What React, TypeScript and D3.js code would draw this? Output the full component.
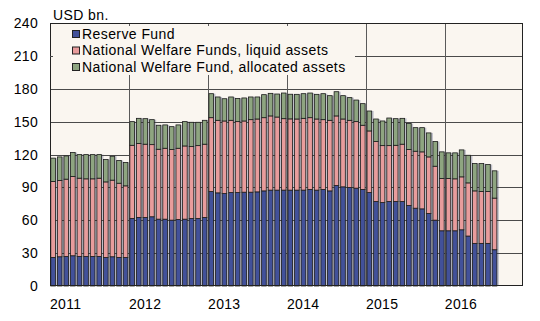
import React from "react";
import * as d3 from "d3";

// Monthly data, Jan 2011 – Aug 2016, USD bn.
const reserveFund = [
  26.1, 26.7, 27, 27.6, 27, 27, 27, 27, 26.1, 26.7, 26.1, 26.1,
  61.7, 62.6, 62.6, 63.2, 61, 61, 60.1, 60.7, 61, 61.6, 61.6, 62.6,
  86.2, 85, 84.4, 85.3, 85.3, 85.6, 85.6, 85.9, 86.8, 87.5, 87.5, 87.5,
  87.5, 87.5, 87.5, 88.1, 87.5, 88.1, 86.8, 91.7, 90.5, 89.9, 89.3, 88.1,
  85.3, 77.1, 76.2, 77.1, 77.1, 77.1, 73.5, 71, 70.4, 66.2, 60.1, 50.4,
  50.4, 50.4, 51.3, 45.6, 38.9, 38.9, 38.9, 33.1,
];
const nwfLiquid = [
  69.3, 69.6, 70.5, 72.3, 71.4, 70.8, 70.8, 71.4, 68.9, 69.9, 67.7, 65.3,
  66.7, 67.4, 66.8, 65.8, 63.8, 64.7, 64.4, 65, 66.8, 65.6, 66.5, 66.8,
  67.4, 66.2, 66.2, 65.9, 64.7, 65, 66.2, 66.5, 66.8, 67.7, 66.7, 65.2,
  65, 64.9, 65.5, 65.5, 64.9, 63.7, 64.4, 63.5, 61.9, 61.3, 60.7, 58.6,
  56.2, 54.7, 51.9, 51, 51.3, 52.3, 51, 52, 52, 51.6, 49.2, 47.7,
  47.7, 47.4, 48.3, 48.5, 47.9, 47.3, 47.3, 47.1,
];
const nwfAllocated = [
  21.3, 21.5, 21.2, 21.9, 21.5, 22.1, 22.1, 21.5, 20.4, 21.8, 20.7, 21.3,
  21.6, 23, 23.3, 22.8, 21.9, 21.3, 20.9, 21.3, 22.2, 22.2, 21.3, 21.8,
  21.9, 21.3, 20.3, 21.3, 21.2, 21, 20.7, 20.1, 21, 20.6, 21, 23.4,
  22.5, 22.5, 22.5, 22.5, 22.5, 23.7, 22.5, 22.1, 21.3, 20.7, 19.7, 19.7,
  18.2, 20.6, 22.5, 25.2, 24.3, 23.6, 23.7, 21.5, 22.1, 21.9, 22.5, 24.3,
  23.4, 23.7, 24.6, 25.2, 24.9, 25.5, 24.6, 24.9,
];
const seriesNames = [
  "Reserve Fund",
  "National Welfare Funds, liquid assets",
  "National Welfare Fund, allocated assets",
];
const yTicks = [0, 30, 60, 90, 120, 150, 180, 210, 240];
const yearLabels = ["2011", "2012", "2013", "2014", "2015", "2016"];

const colors = ["#42519a", "#e89c9c", "#8ea580"];

export default function App() {
  const W = 540, H = 321;
  const L = 50, R = 523, T = 23, B = 286;
  const font = "'Liberation Sans', Arial, sans-serif";

  const startDate = new Date(2011, 0, 1);
  const endDate = new Date(2017, 0, 1);
  const allMonths = d3.timeMonths(startDate, endDate);
  const xTime = d3.scaleTime().domain([startDate, endDate]).range([L, R + 1]);
  const xBand = d3
    .scaleBand<number>()
    .domain(d3.range(allMonths.length))
    .range([L, R + 1])
    .paddingInner(0.3)
    .paddingOuter(0.12);
  const y = d3.scaleLinear().domain([0, 240]).range([B, T]);

  const table = reserveFund.map((v, i) => ({
    i,
    a: v,
    b: nwfLiquid[i],
    c: nwfAllocated[i],
  }));
  const stacked = d3.stack<any>().keys(["a", "b", "c"])(table);
  const totals = table.map((d) => d.a + d.b + d.c);

  const legX1 = 355, legY1 = 75;
  const step = xBand.step();

  const yearStarts = yearLabels.map((yr) => new Date(+yr, 0, 1));

  return (
    <svg width={W} height={H} style={{ display: "block", position: "absolute", left: 0, top: 0 }}>
      <rect x={0} y={0} width={W} height={H} fill="#ffffff" />
      <rect x={L} y={T} width={R - L} height={B - T} fill="#faf6f0" />

      {/* grey backing between bars */}
      {table.map((d, i) => (
        <rect
          key={"g" + i}
          x={xBand(i)!}
          y={y(totals[i])}
          width={step}
          height={y(0) - y(totals[i])}
          fill="#bfc0ca"
        />
      ))}

      {/* horizontal gridlines */}
      {yTicks
        .filter((t) => t > 0 && t < 240)
        .map((t) => (
          <line
            key={"h" + t}
            x1={y(t) < legY1 ? legX1 : L}
            x2={R}
            y1={Math.round(y(t)) + 0.5}
            y2={Math.round(y(t)) + 0.5}
            stroke="#4a4a4a"
            strokeWidth={1}
          />
        ))}
      {/* vertical gridlines at year boundaries */}
      {yearStarts.slice(1).map((d, k) => {
        const xx = Math.round(xTime(d)) + 0.5;
        const hidden = xx < legX1;
        return (
          <g key={"v" + k}>
            <line x1={xx} x2={xx} y1={hidden ? legY1 : T} y2={B} stroke="#5a5a5a" strokeWidth={1} />
            <line x1={xx} x2={xx} y1={T} y2={T + 3} stroke="#5a5a5a" strokeWidth={1} />
          </g>
        );
      })}

      {/* bars */}
      {stacked.map((s, si) =>
        s.map((d, i) => (
          <rect
            key={si + "-" + i}
            x={xBand(i)!}
            y={y(d[1])}
            width={xBand.bandwidth()}
            height={y(d[0]) - y(d[1])}
            fill={colors[si]}
            stroke="#1c1c1c"
            strokeWidth={0.8}
          />
        ))
      )}

      {/* plot border */}
      <rect x={L + 0.5} y={T + 0.5} width={R - L - 1} height={B - T - 1} fill="none" stroke="#222" strokeWidth={1} />
      {/* small tick for hidden 210 line */}
      <line x1={L} x2={L + 3} y1={Math.round(y(210)) + 0.5} y2={Math.round(y(210)) + 0.5} stroke="#4a4a4a" />

      {/* y labels */}
      {yTicks.map((t) => (
        <text
          key={"yl" + t}
          x={38}
          y={y(t) + 5}
          textAnchor="end"
          fontFamily={font}
          fontSize={14}
          letterSpacing={0.3}
          fill="#000"
        >
          {t}
        </text>
      ))}
      {/* year labels */}
      {yearStarts.map((d, k) => (
        <text key={"xl" + k} x={xTime(d)} y={309} fontFamily={font} fontSize={14} letterSpacing={0.3} fill="#000">
          {yearLabels[k]}
        </text>
      ))}
      <text x={53} y={20} fontFamily={font} fontSize={14} letterSpacing={0.4} fill="#000">
        USD bn.
      </text>

      {/* legend */}
      {seriesNames.map((n, k) => (
        <g key={"lg" + k}>
          <rect x={72.5} y={30.5 + k * 16.5} width={7} height={7} fill={colors[k]} stroke="#222" strokeWidth={1} />
          <text x={82} y={38.5 + k * 16.5} fontFamily={font} fontSize={14} letterSpacing={0.42} fill="#000">
            {n}
          </text>
        </g>
      ))}
    </svg>
  );
}
